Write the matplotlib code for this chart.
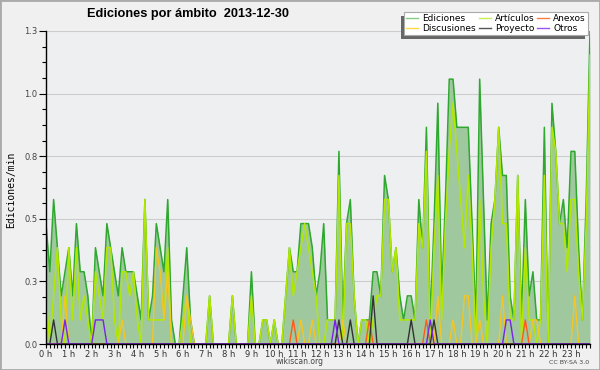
import numpy as np
import matplotlib
matplotlib.use('Agg')
import matplotlib.pyplot as plt
from matplotlib.lines import Line2D
from matplotlib.patches import Rectangle

# one value every 10 minutes, 6 per hour
ediciones = [
    0.5, 0.3, 0.6, 0.4, 0.2, 0.3,  0.4, 0.2, 0.5, 0.3, 0.3, 0.2,
    0.0, 0.4, 0.3, 0.2, 0.5, 0.4,  0.3, 0.2, 0.4, 0.3, 0.3, 0.3,
    0.2, 0.1, 0.6, 0.1, 0.2, 0.5,  0.4, 0.3, 0.6, 0.1, 0.0, 0.0,
    0.2, 0.4, 0.1, 0.0, 0.0, 0.0,  0.0, 0.2, 0.0, 0.0, 0.0, 0.0,
    0.0, 0.2, 0.0, 0.0, 0.0, 0.0,  0.3, 0.0, 0.0, 0.1, 0.1, 0.0,
    0.1, 0.0, 0.0, 0.2, 0.4, 0.3,  0.3, 0.5, 0.5, 0.5, 0.4, 0.2,
    0.3, 0.5, 0.1, 0.1, 0.1, 0.8,  0.1, 0.5, 0.6, 0.2, 0.0, 0.1,
    0.1, 0.1, 0.3, 0.3, 0.2, 0.7,  0.6, 0.3, 0.4, 0.2, 0.1, 0.2,
    0.2, 0.1, 0.6, 0.4, 0.9, 0.1,  0.5, 1.0, 0.2, 0.6, 1.1, 1.1,
    0.9, 0.9, 0.9, 0.9, 0.5, 0.1,  1.1, 0.6, 0.1, 0.5, 0.6, 0.9,
    0.7, 0.7, 0.2, 0.1, 0.7, 0.1,  0.6, 0.2, 0.3, 0.1, 0.1, 0.9,
    0.0, 1.0, 0.8, 0.5, 0.6, 0.4,  0.8, 0.8, 0.4, 0.1, 0.6, 1.3,
]
articulos = [
    0.2, 0.0, 0.2, 0.4, 0.1, 0.0,  0.4, 0.1, 0.4, 0.1, 0.2, 0.1,
    0.0, 0.3, 0.2, 0.1, 0.4, 0.4,  0.1, 0.0, 0.3, 0.3, 0.2, 0.3,
    0.1, 0.0, 0.6, 0.1, 0.1, 0.1,  0.1, 0.1, 0.4, 0.0, 0.0, 0.0,
    0.1, 0.2, 0.0, 0.0, 0.0, 0.0,  0.0, 0.2, 0.0, 0.0, 0.0, 0.0,
    0.0, 0.2, 0.0, 0.0, 0.0, 0.0,  0.2, 0.0, 0.0, 0.1, 0.1, 0.0,
    0.1, 0.0, 0.0, 0.2, 0.4, 0.2,  0.3, 0.4, 0.5, 0.4, 0.3, 0.2,
    0.0, 0.0, 0.1, 0.1, 0.1, 0.7,  0.0, 0.5, 0.5, 0.2, 0.0, 0.1,
    0.1, 0.0, 0.1, 0.2, 0.2, 0.6,  0.6, 0.3, 0.4, 0.1, 0.1, 0.1,
    0.1, 0.1, 0.5, 0.4, 0.8, 0.0,  0.4, 0.7, 0.1, 0.5, 0.8, 1.0,
    0.8, 0.6, 0.4, 0.7, 0.4, 0.0,  0.6, 0.2, 0.0, 0.4, 0.6, 0.9,
    0.5, 0.5, 0.1, 0.1, 0.7, 0.0,  0.4, 0.1, 0.1, 0.0, 0.1, 0.7,
    0.0, 0.9, 0.8, 0.5, 0.5, 0.3,  0.6, 0.6, 0.3, 0.1, 0.5, 1.2,
]
discusiones = [
    0, 0, 0, 0, 0, 0.2,  0, 0, 0, 0, 0, 0,
    0, 0, 0, 0, 0, 0,  0, 0, 0.1, 0, 0, 0,
    0, 0, 0, 0, 0, 0.4,  0.3, 0.1, 0.3, 0, 0, 0,
    0, 0.2, 0.1, 0, 0, 0,  0, 0, 0, 0, 0, 0,
    0, 0, 0, 0, 0, 0,  0, 0, 0, 0, 0, 0,
    0, 0, 0, 0, 0, 0,  0, 0.1, 0, 0, 0.1, 0,
    0, 0, 0, 0, 0, 0,  0.1, 0, 0, 0, 0, 0,
    0, 0, 0, 0, 0, 0,  0, 0, 0, 0, 0, 0,
    0, 0, 0, 0, 0, 0,  0, 0.2, 0, 0, 0, 0.1,
    0, 0, 0.2, 0.2, 0, 0,  0.1, 0, 0, 0, 0, 0,
    0.2, 0, 0, 0, 0, 0,  0, 0, 0.1, 0.1, 0, 0,
    0, 0, 0, 0, 0, 0,  0, 0.2, 0, 0, 0, 0,
]
anexos = [
    0, 0, 0, 0, 0, 0,  0, 0, 0, 0, 0, 0,
    0, 0, 0, 0, 0, 0,  0, 0, 0, 0, 0, 0,
    0, 0, 0, 0, 0, 0,  0, 0, 0, 0, 0, 0,
    0, 0, 0, 0, 0, 0,  0, 0, 0, 0, 0, 0,
    0, 0, 0, 0, 0, 0,  0, 0, 0, 0, 0, 0,
    0, 0, 0, 0, 0, 0.1,  0, 0, 0, 0, 0, 0,
    0, 0, 0, 0, 0, 0,  0, 0, 0, 0, 0, 0,
    0, 0.1, 0, 0, 0, 0,  0, 0, 0, 0, 0, 0,
    0, 0, 0, 0, 0.1, 0,  0, 0, 0, 0, 0, 0,
    0, 0, 0, 0, 0, 0,  0, 0, 0, 0, 0, 0,
    0, 0, 0, 0, 0, 0,  0.1, 0, 0, 0, 0, 0,
    0, 0, 0, 0, 0, 0,  0, 0, 0, 0, 0, 0,
]
proyecto = [
    0, 0, 0.1, 0, 0, 0,  0, 0, 0, 0, 0, 0,
    0, 0, 0, 0, 0, 0,  0, 0, 0, 0, 0, 0,
    0, 0, 0, 0, 0, 0,  0, 0, 0, 0, 0, 0,
    0, 0, 0, 0, 0, 0,  0, 0, 0, 0, 0, 0,
    0, 0, 0, 0, 0, 0,  0, 0, 0, 0, 0, 0,
    0, 0, 0, 0, 0, 0,  0, 0, 0, 0, 0, 0,
    0, 0, 0, 0, 0, 0.1,  0, 0, 0.1, 0, 0, 0,
    0, 0, 0.2, 0, 0, 0,  0, 0, 0, 0, 0, 0,
    0.1, 0, 0, 0, 0, 0,  0.1, 0, 0, 0, 0, 0,
    0, 0, 0, 0, 0, 0,  0, 0, 0, 0, 0, 0,
    0, 0, 0, 0, 0, 0,  0, 0, 0, 0, 0, 0,
    0, 0, 0, 0, 0, 0,  0, 0, 0, 0, 0, 0,
]
otros = [
    0, 0, 0, 0, 0, 0.1,  0, 0, 0, 0, 0, 0,
    0, 0.1, 0.1, 0.1, 0, 0,  0, 0, 0, 0, 0, 0,
    0, 0, 0, 0, 0, 0,  0, 0, 0, 0, 0, 0,
    0, 0, 0, 0, 0, 0,  0, 0, 0, 0, 0, 0,
    0, 0, 0, 0, 0, 0,  0, 0, 0, 0, 0, 0,
    0, 0, 0, 0, 0, 0,  0, 0, 0, 0, 0, 0,
    0, 0, 0, 0, 0.1, 0,  0, 0, 0, 0, 0, 0,
    0, 0, 0, 0, 0, 0,  0, 0, 0, 0, 0, 0,
    0, 0, 0, 0, 0, 0.1,  0, 0, 0, 0, 0, 0,
    0, 0, 0, 0, 0, 0,  0, 0, 0, 0, 0, 0,
    0, 0.1, 0.1, 0, 0, 0,  0, 0, 0, 0, 0, 0,
    0, 0, 0, 0, 0, 0,  0, 0, 0, 0, 0, 0,
]
hour_labels = ['%d h' % h for h in range(24)]
ytick_values = [0, 0.26, 0.52, 0.78, 1.04, 1.3]
ytick_labels = ['0.0', '0.3', '0.5', '0.8', '1.0', '1.3']

x = np.arange(len(ediciones)) / 6.0

fig = plt.figure(figsize=(6, 3.7), dpi=100, facecolor='#f0f0f0')
ax = fig.add_axes([46/600, 1 - 344/370, 544/600, 313/370])
ax.set_facecolor('#eeeff1')

ax.fill_between(x, ediciones, color='#9fc89f', lw=0, zorder=2)
ax.plot(x, ediciones, color='#2ea82e', lw=1.1, zorder=3)
ax.plot(x, articulos, color='#b2e800', lw=1.1, zorder=4)
ax.plot(x, discusiones, color='#f7c520', lw=1.0, zorder=5)
ax.plot(x, anexos, color='#ff5a1a', lw=1.0, zorder=5)
ax.plot(x, proyecto, color='#333333', lw=1.0, zorder=5)
ax.plot(x, otros, color='#7a22e8', lw=1.0, zorder=5)

ax.set_xlim(0, x[-1])
ax.set_ylim(0, 1.3)
ax.set_yticks(ytick_values)
ax.set_yticklabels(ytick_labels)
ax.set_yticks(np.arange(0, 1.3001, 0.065), minor=True)
ax.set_xticks(np.arange(24))
ax.set_xticklabels(hour_labels)
ax.set_xticks(x, minor=True)
ax.tick_params(axis='y', which='major', length=5, width=0.8, labelsize=6, labelcolor='#444444', pad=1)
ax.tick_params(axis='y', which='minor', length=3, width=0.8)
ax.tick_params(axis='x', which='both', length=3, width=0.8, labelsize=6, labelcolor='#333333', pad=1)
ax.grid(axis='y', which='major', color='#cccccc', lw=0.8, zorder=1)
ax.set_axisbelow(True)
for s in ['top', 'right']:
    ax.spines[s].set_visible(False)
for s in ['left', 'bottom']:
    ax.spines[s].set_linewidth(1.0)
    ax.spines[s].set_zorder(6)

fig.text(188/600, 1 - 14/370, 'Ediciones por ámbito  2013-12-30', ha='center', va='center',
         fontsize=9.2, fontweight='bold', family='Liberation Sans')
fig.text(11/600, 1 - 190/370, 'Ediciones/min', rotation=90, ha='center', va='center',
         fontsize=7, family='DejaVu Sans Mono')
fig.text(300/600, 1 - 362/370, 'wikiscan.org', ha='center', va='center', fontsize=5.5, color='#444444')
fig.text(589/600, 1 - 363/370, 'CC BY-SA 3.0', ha='right', va='center', fontsize=4.5, color='#444444')

handles = [
    Line2D([], [], color='#88cc88', lw=1),
    Line2D([], [], color='#ffd84a', lw=1),
    Line2D([], [], color='#c8ee55', lw=1),
    Line2D([], [], color='#555555', lw=1),
    Line2D([], [], color='#ff7a44', lw=1),
    Line2D([], [], color='#9a55f0', lw=1),
]
names = ['Ediciones', 'Discusiones', 'Artículos', 'Proyecto', 'Anexos', 'Otros']
leg = fig.legend(handles, names, ncol=3, loc='upper left', bbox_to_anchor=(404/600, 1 - 12/370),
                 frameon=True, fancybox=False, edgecolor='#aaaaaa', facecolor='white', framealpha=1,
                 fontsize=6.5, handlelength=1.3, handletextpad=0.45, columnspacing=0.35,
                 labelspacing=0.1, borderpad=0.25, borderaxespad=0)
leg.get_frame().set_linewidth(0.8)
leg.set_zorder(10)

fig.canvas.draw()
bb = leg.get_window_extent()
shadow = Rectangle((bb.x0 - 3, bb.y0 - 4), bb.width, bb.height, transform=None,
                   facecolor='#666666', edgecolor='none', zorder=9)
fig.patches.append(shadow)
fig.patches.append(Rectangle((0, 0), 1, 1, transform=fig.transFigure, fill=False,
                             edgecolor='#aaaaaa', lw=2, zorder=20))

fig.savefig('out.png', dpi=100, facecolor=fig.get_facecolor())
